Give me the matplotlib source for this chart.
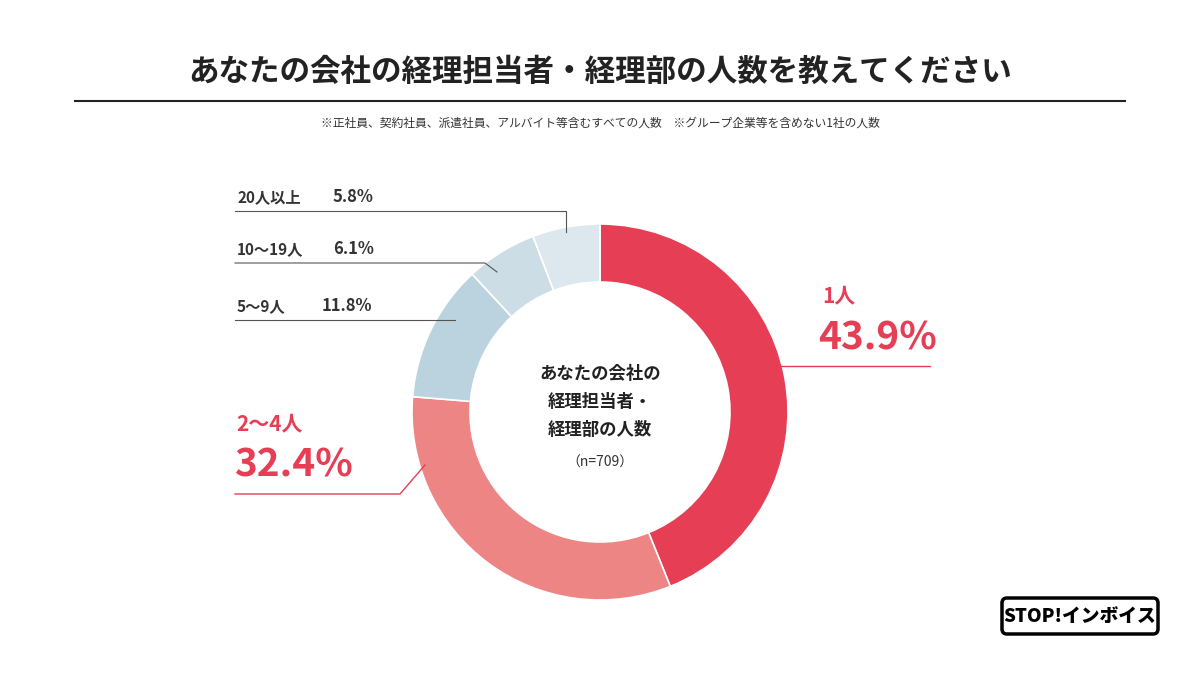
import matplotlib
matplotlib.use("Agg")
import matplotlib.pyplot as plt
from matplotlib.patches import FancyBboxPatch

plt.rcParams['font.family'] = ['Noto Sans CJK JP', 'DejaVu Sans']

categories = ["1人", "2〜4人", "5〜9人", "10〜19人", "20人以上"]
values = [43.9, 32.4, 11.8, 6.1, 5.8]
colors = ["#E63E55", "#EE8585", "#BBD3DF", "#CCDDE6", "#DDE8EE"]

H = 675
fig = plt.figure(figsize=(12, 6.75), dpi=100)
ax = fig.add_axes([0, 0, 1, 1])
ax.set_xlim(0, 1200); ax.set_ylim(0, H); ax.axis('off')

cx, cy = 600, H - 412
ax.pie(values, colors=colors, startangle=90, counterclock=False,
       center=(cx, cy), radius=188, wedgeprops=dict(width=58, linewidth=1.2, edgecolor='white'), frame=True)
ax.set_xlim(0, 1200); ax.set_ylim(0, H); ax.axis('off'); ax.set_aspect('equal')

def Y(y): return H - y

ax.text(600, Y(72), "あなたの会社の経理担当者・経理部の人数を教えてください", ha='center', va='center',
        fontsize=22, fontweight='bold', color='#222222')
ax.plot([75, 1125], [Y(101), Y(101)], color='#222222', lw=1.5)
ax.text(600, Y(123), "※正社員、契約社員、派遣社員、アルバイト等含むすべての人数　※グループ企業等を含めない1社の人数",
        ha='center', va='center', fontsize=8.5, color='#333333')

# center text
for i, t in enumerate(["あなたの会社の", "経理担当者・", "経理部の人数"]):
    ax.text(600, Y(374 + i * 28), t, ha='center', va='center', fontsize=12.5, fontweight='bold', color='#222222')
ax.text(600, Y(463), "（n=709）", ha='center', va='center', fontsize=10, color='#333333')

red = '#E63E55'
lc = '#555555'
# 1人
ax.plot([768, 930], [Y(366), Y(366)], color=red, lw=1)
ax.text(822, Y(296), categories[0], fontsize=15, color=red, fontweight='bold', va='center')
ax.text(818, Y(338), f"{values[0]}%", fontsize=28, color=red, fontweight='bold', va='center')
# 2~4
ax.plot([425, 400, 235], [Y(465), Y(494), Y(494)], color=red, lw=1)
ax.text(236, Y(424), categories[1], fontsize=15, color=red, fontweight='bold', va='center')
ax.text(234, Y(465), f"{values[1]}%", fontsize=28, color=red, fontweight='bold', va='center')
# small ones
ax.plot([455, 235], [Y(320), Y(320)], color=lc, lw=0.8)
ax.text(237, Y(306), "5〜9人", fontsize=11, fontweight='bold', color='#333333', va='center')
ax.text(322, Y(306), f"{values[2]}%", fontsize=12, fontweight='bold', color='#333333', va='center')
ax.plot([497, 485, 235], [Y(272), Y(263), Y(263)], color=lc, lw=0.8)
ax.text(237, Y(249), "10〜19人", fontsize=11, fontweight='bold', color='#333333', va='center')
ax.text(333, Y(249), f"{values[3]}%", fontsize=12, fontweight='bold', color='#333333', va='center')
ax.plot([566, 566, 235], [Y(232), Y(211), Y(211)], color=lc, lw=0.8)
ax.text(237, Y(197), "20人以上", fontsize=11, fontweight='bold', color='#333333', va='center')
ax.text(333, Y(197), f"{values[4]}%", fontsize=12, fontweight='bold', color='#333333', va='center')

# logo
ax.add_patch(FancyBboxPatch((1002, Y(634)), 156, 36, boxstyle="round,pad=0,rounding_size=5",
                            fc='white', ec='black', lw=2.5))
ax.text(1080, Y(616), "STOP!インボイス", ha='center', va='center', fontsize=13.5,
        fontweight='black', color='black', style='italic')

fig.savefig("out.png", dpi=100)
